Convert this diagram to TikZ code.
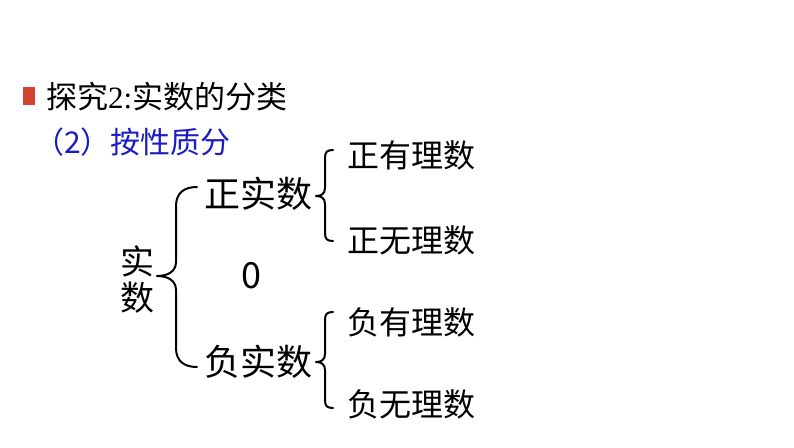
\documentclass[tikz,border=0pt]{standalone}
\usepackage{fontspec}
\newfontfamily\cjk{Noto Sans CJK SC}
\newfontfamily\serifnum{Liberation Serif}
\definecolor{titlered}{RGB}{214,64,46}
\definecolor{subblue}{RGB}{28,28,196}
\newcommand\mysmallbrace[3]{%
  \draw[bracel] (333,#1) .. controls (327,#1) and (325,{#1+2}) .. (325,{#1+8})
    -- (325,{#2-8}) .. controls (325,{#2-2}) and (321,#2) .. (316,#2)
    .. controls (321,#2) and (325,{#2+2}) .. (325,{#2+8})
    -- (325,{#3-8}) .. controls (325,{#3-2}) and (327,#3) .. (333,#3);}
\begin{document}
\begin{tikzpicture}[x=1pt,y=-1pt,
  bracel/.style={line width=2pt,line cap=round,line join=round},
  txt/.style={inner sep=0pt,anchor=west,font=\cjk}]
\useasboundingbox (0,0) rectangle (794,447);
\fill[white] (0,0) rectangle (794,447);
% title
\fill[titlered] (23,87) rectangle (35,105);
\node[txt] (title) at (46,97) {\fontsize{31}{33}\selectfont 探究{\serifnum 2:}实数的分类};
\node[txt,text=subblue] (sub) at (34,142) {\fontsize{30}{32}\selectfont （2）按性质分};
% main
\node[inner sep=0pt,align=center,font=\cjk\fontsize{34}{36}\selectfont] (shishu) at (137,280) {实\\数};
\node[txt] (pos) at (204,194) {\fontsize{36}{38}\selectfont 正实数};
\node[txt] (neg) at (204,362) {\fontsize{36}{38}\selectfont 负实数};
\node[inner sep=0pt,font=\cjk\fontsize{36}{38}\selectfont] (zero) at (251,276) {0};
\node[txt] (pr) at (347,155) {\fontsize{32}{34}\selectfont 正有理数};
\node[txt] (pi) at (347,240) {\fontsize{32}{34}\selectfont 正无理数};
\node[txt] (nr) at (347,322) {\fontsize{32}{34}\selectfont 负有理数};
\node[txt] (ni) at (347,404) {\fontsize{32}{34}\selectfont 负无理数};
% big brace
\draw[bracel] (197,187) .. controls (184,187) and (176,193) .. (176,206)
  -- (176,262) .. controls (176,272) and (167,276) .. (157,276)
  .. controls (167,276) and (176,280) .. (176,290)
  -- (176,348) .. controls (176,361) and (184,367) .. (197,367);
\mysmallbrace{150}{196}{241}
\mysmallbrace{312}{362}{408}
\end{tikzpicture}
\end{document}
